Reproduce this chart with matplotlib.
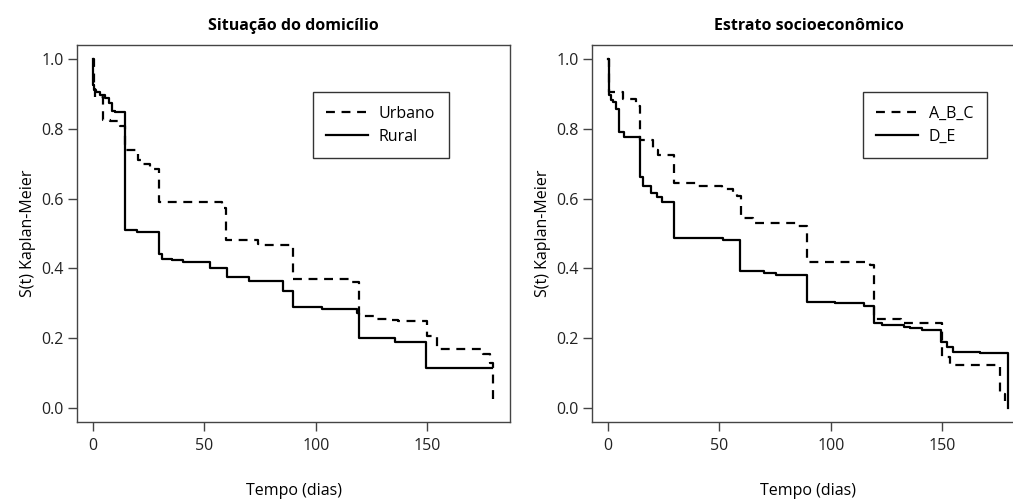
import matplotlib
matplotlib.use("Agg")
import matplotlib.pyplot as plt

plt.rcParams['font.family'] = ['Open Sans', 'DejaVu Sans']

# Situação do domicílio
urbano_t = [0, 0.5, 1, 4.5, 7.6, 12, 14.4, 20, 22, 25.6, 29.7, 57.8, 59.7, 74, 76.4,
            89.7, 115.5, 119.6, 126.7, 132.5, 137, 150, 154.4, 175.3, 178.3, 179.5]
urbano_s = [1.0, 0.93, 0.89, 0.826, 0.821, 0.809, 0.74, 0.711, 0.70, 0.686, 0.589, 0.574,
            0.48, 0.47, 0.466, 0.37, 0.361, 0.264, 0.254, 0.251, 0.248, 0.205, 0.17,
            0.154, 0.13, 0.01]
rural_t = [0, 0.2, 0.6, 1.5, 3, 5.4, 7.2, 8.4, 9.9, 14.4, 19.6, 29.8, 30.9, 35.4, 40.6,
           52.3, 60, 70.2, 85.4, 89.7, 102.7, 118.4, 119.6, 135.6, 149.6, 179]
rural_s = [1.0, 0.926, 0.911, 0.904, 0.897, 0.889, 0.874, 0.851, 0.847, 0.509, 0.503,
           0.44, 0.428, 0.424, 0.418, 0.40, 0.376, 0.364, 0.335, 0.29, 0.285, 0.272,
           0.202, 0.19, 0.116, 0.116]

# Estrato socioeconômico
abc_t = [0, 0.5, 6.9, 12.5, 14.4, 20.4, 22.6, 29.7, 40, 51, 56.3, 57.8, 59.6, 65.3,
         85.5, 89.3, 117.4, 119.6, 131.6, 150, 153.6, 176, 178]
abc_s = [1.0, 0.905, 0.885, 0.864, 0.769, 0.74, 0.726, 0.645, 0.637, 0.628, 0.617,
         0.607, 0.545, 0.531, 0.521, 0.419, 0.411, 0.254, 0.243, 0.145, 0.123, 0.04, 0.02]
de_t = [0, 0.3, 0.6, 1.2, 2.4, 3.6, 4.9, 7.3, 14.4, 15.9, 19.3, 21.9, 24.4, 29.8, 51.8,
        59.3, 69.8, 75.5, 89.3, 102, 114.7, 119.6, 123, 132.7, 135.7, 141, 149.6, 152,
        155, 167, 179.6]
de_s = [1.0, 0.907, 0.897, 0.883, 0.878, 0.856, 0.792, 0.776, 0.662, 0.635, 0.616,
        0.605, 0.59, 0.488, 0.481, 0.393, 0.388, 0.381, 0.304, 0.30, 0.292, 0.245,
        0.237, 0.232, 0.228, 0.223, 0.188, 0.175, 0.161, 0.157, 0.0]

panels = [
    ("Situação do domicílio", urbano_t, urbano_s, "Urbano", rural_t, rural_s, "Rural"),
    ("Estrato socioeconômico", abc_t, abc_s, "A_B_C", de_t, de_s, "D_E"),
]
xticks = [0, 50, 100, 150]
yticks = [0.0, 0.2, 0.4, 0.6, 0.8, 1.0]

fig = plt.figure(figsize=(10.13, 5.0), dpi=100)
axes_pos = [[77 / 1013, 0.156, 433 / 1013, 0.754],
            [592 / 1013, 0.156, 433 / 1013, 0.754]]
legend_anchor = [(0.859, 0.875), (0.912, 0.875)]

for i, (title, t1, s1, l1, t2, s2, l2) in enumerate(panels):
    ax = fig.add_axes(axes_pos[i])
    ax.plot(t1, s1, drawstyle='steps-post', color='black', lw=1.6,
            dashes=(4, 3), label=l1)
    ax.plot(t2, s2, drawstyle='steps-post', color='black', lw=1.6, label=l2)
    ax.set_xlim(-7.2, 187.2)
    ax.set_ylim(-0.04, 1.04)
    ax.set_xticks(xticks)
    ax.set_yticks(yticks)
    ax.set_yticklabels([f"{v:.1f}" for v in yticks])
    ax.tick_params(direction='out', length=6.5, width=1, color='#444',
                   labelsize=11.5, labelcolor='#222')
    ax.tick_params(axis='x', pad=5)
    ax.tick_params(axis='y', pad=3)
    for sp in ax.spines.values():
        sp.set_color('#444')
        sp.set_linewidth(1)
    ax.set_title(title, fontsize=11.5, fontweight='bold', pad=11)
    ax.set_xlabel("Tempo (dias)", fontsize=11.5, labelpad=21)
    ax.set_ylabel("S(t) Kaplan-Meier", fontsize=11.5, labelpad=4)
    leg = ax.legend(loc='upper right', bbox_to_anchor=legend_anchor[i],
                    borderaxespad=0, fancybox=False, fontsize=11.5,
                    handlelength=2.6, handletextpad=0.7, borderpad=0.85,
                    labelspacing=0.45)
    leg.get_frame().set_edgecolor('black')
    leg.get_frame().set_linewidth(1)

fig.savefig("out.png", dpi=100)
